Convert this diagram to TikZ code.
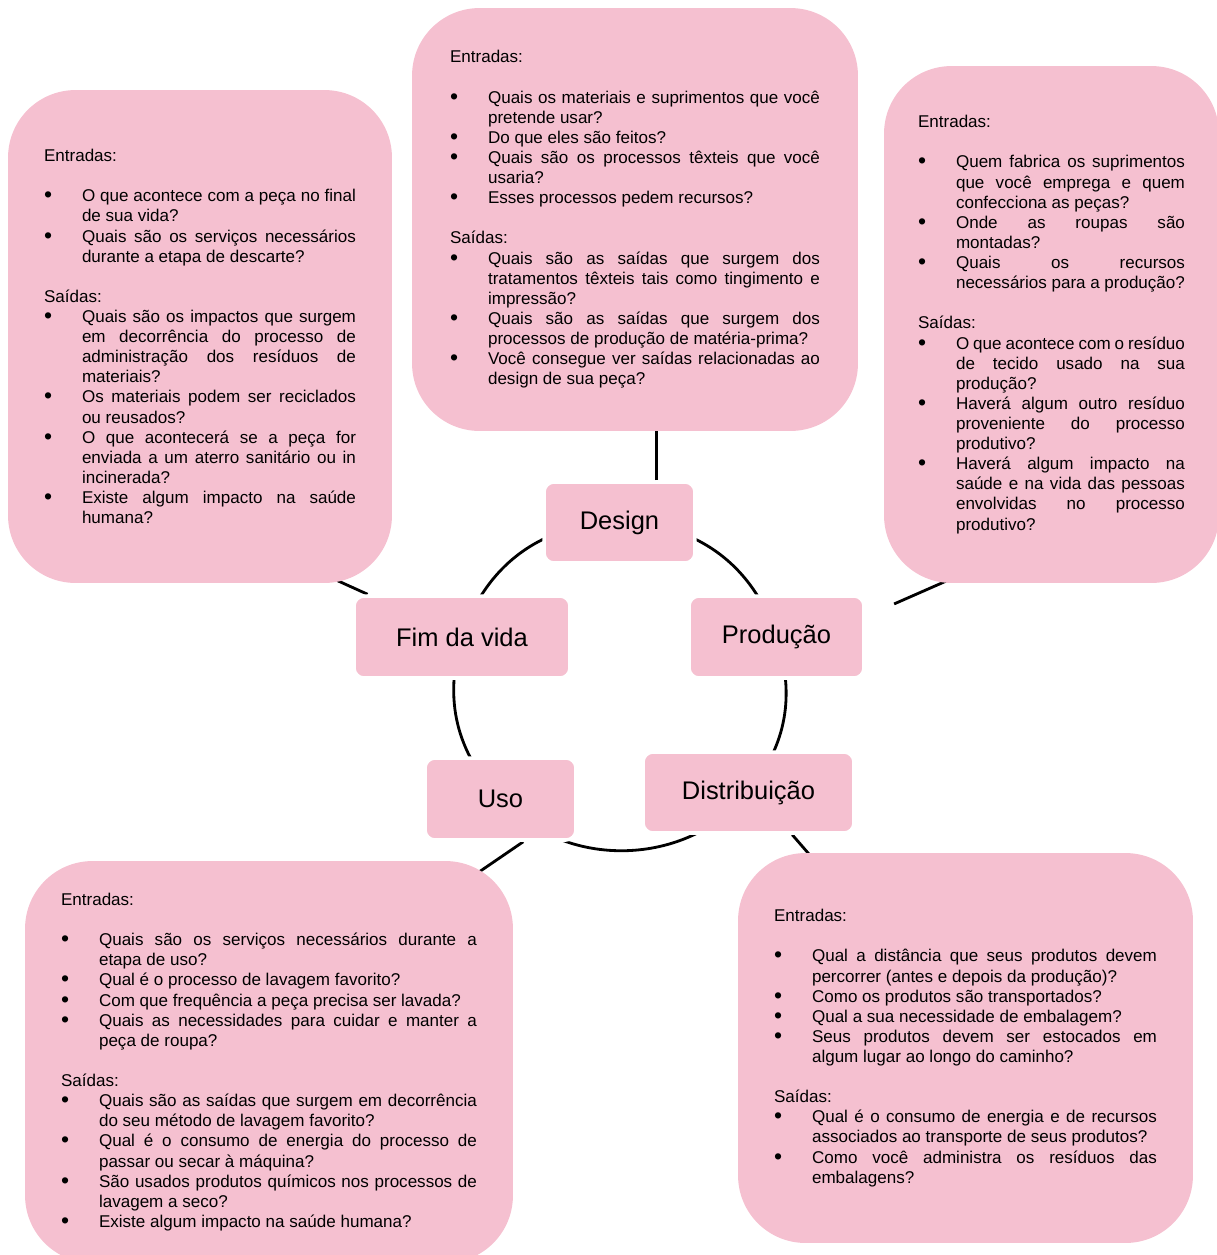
\documentclass[tikz,border=0pt]{standalone}
\usepackage{fontspec}
\setmainfont{Liberation Sans}
\usetikzlibrary{positioning, backgrounds}
\definecolor{petal}{RGB}{245,192,208}

\newcommand{\qfont}{\fontsize{9.7}{11.45}\selectfont}
\newcommand{\stagefont}{\fontsize{14.5}{17}\selectfont}
\newcommand{\qhead}[1]{\noindent #1\par}
\newcommand{\qgap}{\vskip\baselineskip}
\newcommand{\qdot}{\raisebox{-0.06em}{\scalebox{1.35}{\textbullet}}}
\newcommand{\qitem}[1]{\noindent\hangindent=0.76cm\hangafter=1\makebox[0.76cm][l]{\qdot}#1\par}

\tikzset{
  qbox/.style={fill=petal, rounded corners=1.35cm, inner sep=0pt, align=justify, font=\qfont},
  stage/.style={fill=petal, draw=white, line width=2pt, rounded corners=0.2cm, inner sep=0pt, font=\stagefont},
  ring/.style={line width=1.6pt},
  spoke/.style={line width=1.6pt}
}

\begin{document}
\begin{tikzpicture}[x=0.02cm, y=-0.02cm]
  \useasboundingbox (0,0) rectangle (1217,1255);

  \node[qbox, minimum width=7.68cm, minimum height=9.86cm, text width=6.24cm] (endbox) at (200,336.5) {%
    \qhead{Entradas:}\qgap
    \qitem{O que acontece com a peça no final\linebreak de sua vida?}
    \qitem{Quais são os serviços necessários\linebreak durante a etapa de descarte?}
    \qgap
    \qhead{Saídas:}
    \qitem{Quais são os impactos que surgem\linebreak em decorrência do processo de\linebreak administração dos resíduos de\linebreak materiais?}
    \qitem{Os materiais podem ser reciclados\linebreak ou reusados?}
    \qitem{O que acontecerá se a peça for\linebreak enviada a um aterro sanitário ou in\linebreak incinerada?}
    \qitem{Existe algum impacto na saúde\linebreak humana?}};

  \node[qbox, minimum width=8.92cm, minimum height=8.46cm, text width=7.4cm] (designbox) at (635,219.5) {%
    \qhead{Entradas:}\qgap
    \qitem{Quais os materiais e suprimentos que você\linebreak pretende usar?}
    \qitem{Do que eles são feitos?}
    \qitem{Quais são os processos têxteis que você\linebreak usaria?}
    \qitem{Esses processos pedem recursos?}
    \qgap
    \qhead{Saídas:}
    \qitem{Quais são as saídas que surgem dos\linebreak tratamentos têxteis tais como tingimento e\linebreak impressão?}
    \qitem{Quais são as saídas que surgem dos\linebreak processos de produção de matéria-prima?}
    \qitem{Você consegue ver saídas relacionadas ao\linebreak design de sua peça?}};

  \node[qbox, minimum width=6.7cm, minimum height=10.34cm, text width=5.34cm] (prodbox) at (1051.5,324.5) {%
    \qhead{Entradas:}\qgap
    \qitem{Quem fabrica os suprimentos\linebreak que você emprega e quem\linebreak confecciona as peças?}
    \qitem{Onde as roupas são\linebreak montadas?}
    \qitem{Quais os recursos\linebreak necessários para a produção?}
    \qgap
    \qhead{Saídas:}
    \qitem{O que acontece com o resíduo\linebreak de tecido usado na sua\linebreak produção?}
    \qitem{Haverá algum outro resíduo\linebreak proveniente do processo\linebreak produtivo?}
    \qitem{Haverá algum impacto na\linebreak saúde e na vida das pessoas\linebreak envolvidas no processo\linebreak produtivo?}};

  \node[qbox, minimum width=9.76cm, minimum height=8.04cm, text width=8.32cm] (usobox) at (269,1062) {%
    \qhead{Entradas:}\qgap
    \qitem{Quais são os serviços necessários durante a\linebreak etapa de uso?}
    \qitem{Qual é o processo de lavagem favorito?}
    \qitem{Com que frequência a peça precisa ser lavada?}
    \qitem{Quais as necessidades para cuidar e manter a\linebreak peça de roupa?}
    \qgap
    \qhead{Saídas:}
    \qitem{Quais são as saídas que surgem em decorrência\linebreak do seu método de lavagem favorito?}
    \qitem{Qual é o consumo de energia do processo de\linebreak passar ou secar à máquina?}
    \qitem{São usados produtos químicos nos processos de\linebreak lavagem a seco?}
    \qitem{Existe algum impacto na saúde humana?}};

  \node[qbox, minimum width=9.1cm, minimum height=7.8cm, text width=7.66cm] (distbox) at (965.5,1048) {%
    \qhead{Entradas:}\qgap
    \qitem{Qual a distância que seus produtos devem\linebreak percorrer (antes e depois da produção)?}
    \qitem{Como os produtos são transportados?}
    \qitem{Qual a sua necessidade de embalagem?}
    \qitem{Seus produtos devem ser estocados em\linebreak algum lugar ao longo do caminho?}
    \qgap
    \qhead{Saídas:}
    \qitem{Qual é o consumo de energia e de recursos\linebreak associados ao transporte de seus produtos?}
    \qitem{Como você administra os resíduos das\linebreak embalagens?}};

  \node[stage, minimum width=3.02cm, minimum height=1.62cm] (design) at (619.5,522.5) {Design};
  \node[stage, minimum width=4.32cm, minimum height=1.64cm] (fim) at (462,637) {Fim da vida};
  \node[stage, minimum width=3.5cm, minimum height=1.64cm] (prod) at (776.5,637) {Produção};
  \node[stage, minimum width=3.02cm, minimum height=1.64cm] (uso) at (500.5,799) {Uso};
  \node[stage, minimum width=4.22cm, minimum height=1.62cm] (distr) at (748.5,792.5) {Distribuição};

  \coordinate (endspoke) at (325,575);
  \coordinate (prodspoke) at (960,575);
  \coordinate (usospoke) at (479,872);
  \coordinate (distspoke) at (815,861);

  \begin{scope}[on background layer]
    \draw[ring] (design.center) to[bend left=36] (prod.center);
    \draw[ring] (prod.center) to[bend left=28] (distr.center);
    \draw[ring] (distr.center) to[bend left=49] (uso.center);
    \draw[ring] (uso.center) to[bend left=30] (fim.center);
    \draw[ring] (fim.center) to[bend left=36] (design.center);

    \draw[spoke] (design.49) -- (design.49 |- designbox.south);
    \draw[spoke] (fim) -- (endspoke);
    \draw[spoke, shorten <=0.62cm] (prod.13.5) -- (prodspoke);
    \draw[spoke] (uso.-62) -- (usospoke);
    \draw[spoke] (distr.-44) -- (distspoke);
  \end{scope}
\end{tikzpicture}
\end{document}
